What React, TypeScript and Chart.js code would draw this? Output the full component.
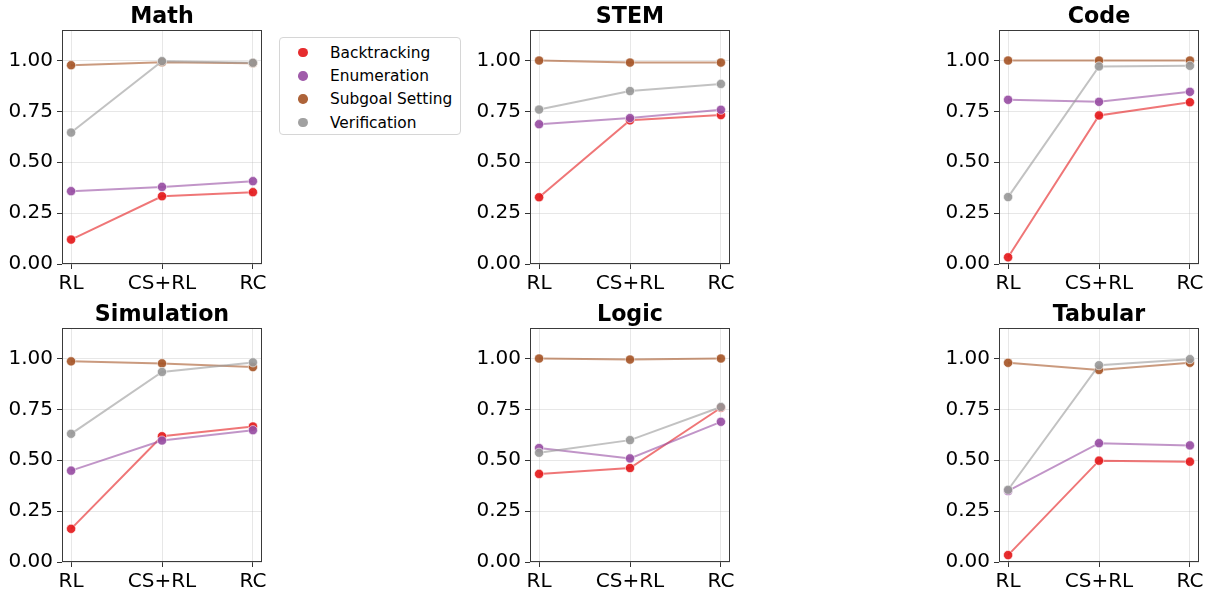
import React, { useEffect, useRef } from "react";
import { Chart, registerables } from "chart.js";

Chart.register(...registerables);

// ---------- data ----------
const categories = ["RL", "CS+RL", "RC"];
const seriesNames = ["Backtracking", "Enumeration", "Subgoal Setting", "Verification"];
const seriesColors = ["#e41a1c", "#984ea3", "#a65628", "#999999"];
const yTicks = [0, 0.25, 0.5, 0.75, 1.0];
const panelTitles = ["Math", "STEM", "Code", "Simulation", "Logic", "Tabular"];

// each: [Backtracking, Enumeration, Subgoal Setting, Verification] over categories
const mathValues = [
  [0.12, 0.333, 0.353],
  [0.358, 0.379, 0.407],
  [0.977, 0.992, 0.987],
  [0.646, 0.997, 0.989],
];
const stemValues = [
  [0.328, 0.706, 0.732],
  [0.687, 0.717, 0.758],
  [1.0, 0.99, 0.99],
  [0.759, 0.85, 0.885],
];
const codeValues = [
  [0.033, 0.73, 0.795],
  [0.807, 0.797, 0.846],
  [1.0, 1.0, 1.0],
  [0.329, 0.971, 0.974],
];
const simulationValues = [
  [0.163, 0.618, 0.666],
  [0.449, 0.597, 0.648],
  [0.986, 0.976, 0.958],
  [0.63, 0.934, 0.981],
];
const logicValues = [
  [0.433, 0.462, 0.758],
  [0.56, 0.509, 0.689],
  [1.0, 0.995, 1.0],
  [0.537, 0.599, 0.762],
];
const tabularValues = [
  [0.034, 0.498, 0.493],
  [0.349, 0.584, 0.573],
  [0.979, 0.944, 0.979],
  [0.355, 0.967, 0.997],
];
const panelValues = [mathValues, stemValues, codeValues, simulationValues, logicValues, tabularValues];

// ---------- layout ----------
const FONT = "'DejaVu Sans', sans-serif";
const plotLefts = [62, 530, 999];
const plotTops = [30, 328];
const PLOT_W = 200;
const PLOT_H = 234;
const LEFT_SPACE = 62;
const TOP_SPACE = 30;
const RIGHT_SPACE = 16;
const BOTTOM_SPACE = 32;
const TICK_SIZE = 20;
const TITLE_SIZE = 22.2;

function hexToRgba(hex: string, a: number) {
  const n = parseInt(hex.slice(1), 16);
  return `rgba(${(n >> 16) & 255},${(n >> 8) & 255},${n & 255},${a})`;
}

const framePlugin = {
  id: "frame",
  afterDraw(chart: any) {
    const { ctx, chartArea } = chart;
    ctx.save();
    ctx.strokeStyle = "#3a3a3a";
    ctx.lineWidth = 1;
    ctx.strokeRect(
      Math.round(chartArea.left) + 0.5,
      Math.round(chartArea.top) + 0.5,
      Math.round(chartArea.right - chartArea.left) - 1,
      Math.round(chartArea.bottom - chartArea.top) - 1
    );
    ctx.restore();
  },
};

function Panel({ title, values, left, top }: { title: string; values: number[][]; left: number; top: number }) {
  const ref = useRef<HTMLCanvasElement | null>(null);
  useEffect(() => {
    if (!ref.current) return;
    const gridColor = "rgba(176,176,176,0.3)";
    const chart = new Chart(ref.current, {
      type: "line",
      data: {
        datasets: seriesNames.map((name, i) => ({
          label: name,
          data: values[i].map((v, j) => ({ x: j, y: v })),
          borderColor: hexToRgba(seriesColors[i], 0.6),
          borderWidth: 2,
          pointBackgroundColor: hexToRgba(seriesColors[i], 0.92),
          pointBorderColor: "rgba(255,255,255,0.8)",
          pointBorderWidth: 0.7,
          pointRadius: 4.6,
          tension: 0,
          order: seriesNames.length - 1 - i,
        })),
      },
      options: {
        animation: false,
        responsive: false,
        devicePixelRatio: 1,
        layout: { padding: { left: 0, right: RIGHT_SPACE, top: 0, bottom: 0 } },
        plugins: {
          legend: { display: false },
          tooltip: { enabled: false },
          title: {
            display: true,
            fullSize: false,
            text: title,
            color: "#000",
            font: { family: FONT, size: TITLE_SIZE, weight: "bold", lineHeight: 1.2 },
            padding: { top: 3.5, bottom: TOP_SPACE - 3.5 - TITLE_SIZE * 1.2 },
          },
        },
        scales: {
          x: {
            type: "linear",
            min: -0.1,
            max: 2.1,
            afterBuildTicks: (s: any) => {
              s.ticks = categories.map((_, j) => ({ value: j }));
            },
            afterFit: (s: any) => {
              s.height = BOTTOM_SPACE;
              s.paddingLeft = 0;
              s.paddingRight = 0;
            },
            ticks: {
              callback: (v: any) => categories[Number(v)],
              color: "#000",
              font: { family: FONT, size: TICK_SIZE },
              padding: 3,
              maxRotation: 0,
              autoSkip: false,
            },
            grid: { color: gridColor, tickColor: "#333", tickLength: 5, tickWidth: 1 },
            border: { display: false },
          },
          y: {
            type: "linear",
            min: 0,
            max: 1.15,
            afterBuildTicks: (s: any) => {
              s.ticks = yTicks.map((v) => ({ value: v }));
            },
            afterFit: (s: any) => {
              s.width = LEFT_SPACE;
              s.paddingTop = 0;
              s.paddingBottom = 0;
            },
            ticks: {
              callback: (v: any) => Number(v).toFixed(2),
              color: "#000",
              font: { family: FONT, size: TICK_SIZE },
              padding: 4,
            },
            grid: { color: gridColor, tickColor: "#333", tickLength: 5, tickWidth: 1 },
            border: { display: false },
          },
        },
      } as any,
      plugins: [framePlugin],
    });
    return () => chart.destroy();
  }, [title, values]);

  const w = LEFT_SPACE + PLOT_W + RIGHT_SPACE;
  const h = TOP_SPACE + PLOT_H + BOTTOM_SPACE;
  return (
    <canvas
      ref={ref}
      width={w}
      height={h}
      style={{ position: "absolute", left: left - LEFT_SPACE, top: top - TOP_SPACE, width: w, height: h }}
    />
  );
}

function Legend() {
  const rowCenters = [51.7, 75, 98.3, 121.7];
  return (
    <div
      style={{
        position: "absolute",
        left: 279,
        top: 37,
        width: 182,
        height: 98,
        boxSizing: "border-box",
        border: "1px solid #d6d6d6",
        borderRadius: 4,
        background: "rgba(255,255,255,0.8)",
      }}
    >
      {seriesNames.map((name, i) => (
        <React.Fragment key={name}>
          <div
            style={{
              position: "absolute",
              left: 302 - 279 - 5,
              top: rowCenters[i] - 37 - 5,
              width: 9.5,
              height: 9.5,
              borderRadius: "50%",
              background: hexToRgba(seriesColors[i], 0.92),
            }}
          />
          <div
            style={{
              position: "absolute",
              left: 330 - 279 - 1,
              top: rowCenters[i] - 37 - 10,
              height: 20,
              lineHeight: "20px",
              fontFamily: FONT,
              fontSize: 15.4,
              color: "#000",
              whiteSpace: "nowrap",
            }}
          >
            {name}
          </div>
        </React.Fragment>
      ))}
    </div>
  );
}

export default function App() {
  return (
    <div style={{ position: "absolute", left: 0, top: 0, width: 1209, height: 595, background: "#fff", overflow: "hidden" }}>
      {panelTitles.map((t, k) => (
        <Panel
          key={t}
          title={t}
          values={panelValues[k]}
          left={plotLefts[k % 3]}
          top={plotTops[Math.floor(k / 3)]}
        />
      ))}
      <Legend />
    </div>
  );
}
